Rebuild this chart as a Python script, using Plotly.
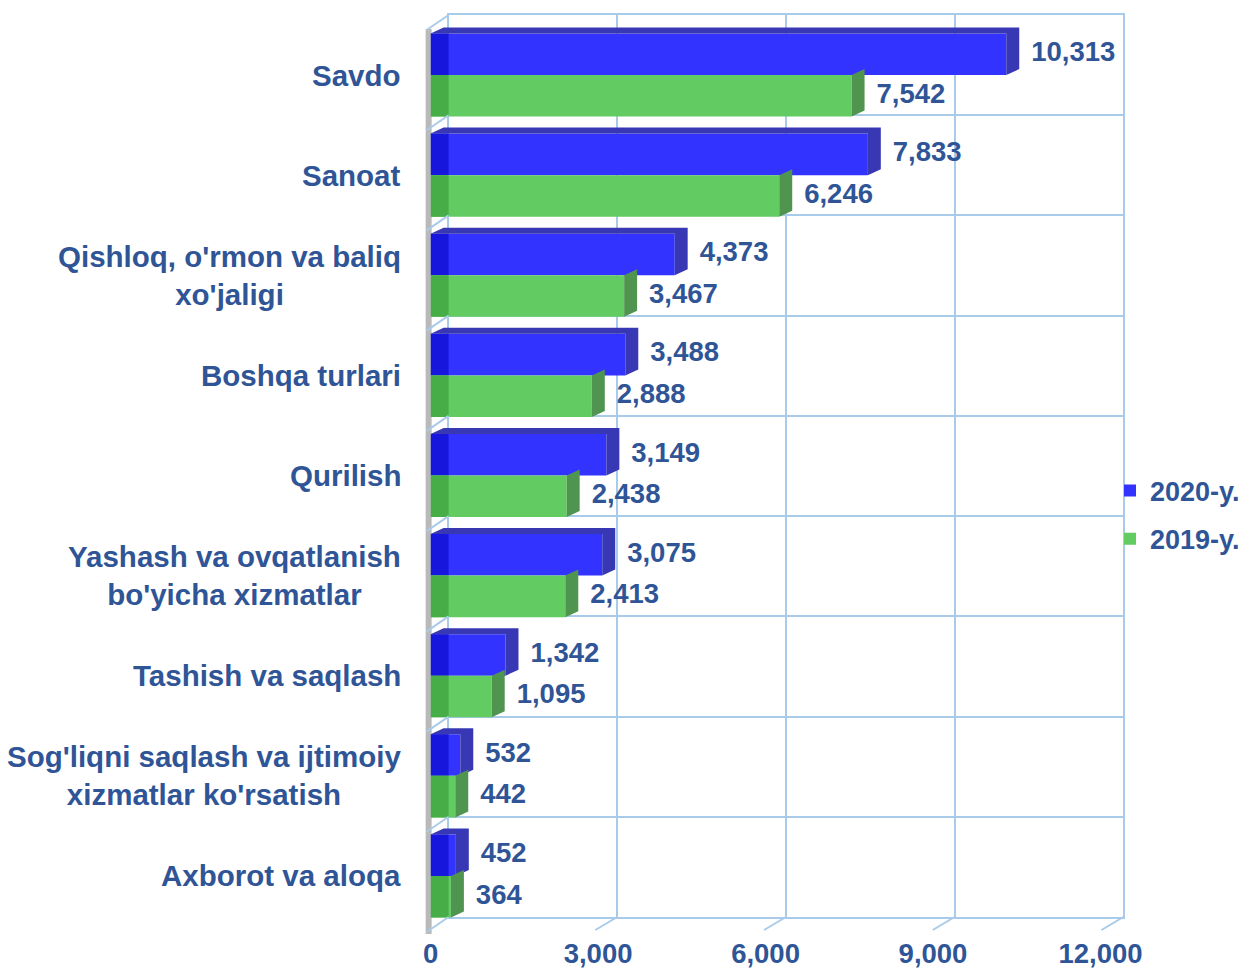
import plotly.graph_objects as go

categories = ["Savdo", "Sanoat", "Qishloq, o'rmon va baliq<br>xo'jaligi", "Boshqa turlari",
              "Qurilish", "Yashash va ovqatlanish<br>bo'yicha xizmatlar", "Tashish va saqlash",
              "Sog'liqni saqlash va ijtimoiy<br>xizmatlar ko'rsatish", "Axborot va aloqa"]
values_2020 = [10313, 7833, 4373, 3488, 3149, 3075, 1342, 532, 452]
values_2019 = [7542, 6246, 3467, 2888, 2438, 2413, 1095, 442, 364]
series_names = ["2020-y.", "2019-y."]
x_ticks = [0, 3000, 6000, 9000, 12000]

# the page body has an 8px margin; keep the figure inside the window
XOFF, YOFF = 8, 8
W, H = 1253 - 2 * XOFF, 977 - 2 * YOFF
TXT = "#2F5597"
GRID = "#A9CBEA"
FONT = "Liberation Sans, Arial, sans-serif"

# front plane (bars) and back plane (grid), in window pixels
fx0, fx1 = 432, 1104
fy_top, fy_bot = 25, 926
bx0, bx1 = 450, 1127
by_top, by_bot = 15, 917
XMAX = x_ticks[-1]
n = len(categories)
pos = list(range(n))

UNIT = XMAX / (fx1 - fx0)             # x units per pixel on the front plane
DX = 13 * UNIT                        # side-face depth (x units)
DY = 6 * n / (fy_bot - fy_top)        # top-face depth (category units)
BW = 0.415                            # bar thickness (category units)
LABEL_GAP = 12 * UNIT
WALL = 18 * UNIT                      # part of each bar in front of the side wall


def px(x):
    return (x - XOFF) / W


def py(y):
    return 1 - (y - YOFF) / H


def faces(values, top_edge_offset, with_top):
    xs, ys = [], []
    for p, v in zip(pos, values):
        yt = p + top_edge_offset
        yb = yt + BW
        xs += [v, v + DX, v + DX, v, v, None]
        ys += [yt, yt - DY, yb - DY, yb, yt, None]
        if with_top:
            xs += [0, DX, v + DX, v, 0, None]
            ys += [yt, yt - DY, yt - DY, yt, yt, None]
    return xs, ys


fig = go.Figure()

# back-wall grid subplot (drawn first)
fig.add_trace(go.Scatter(x=[0], y=[0], xaxis="x", yaxis="y", mode="markers",
                         marker=dict(opacity=0), showlegend=False, hoverinfo="skip"))

series = [
    (values_2020, series_names[0], "#3333FF", "#3838B4", "#1616DC", -BW, True),
    (values_2019, series_names[1], "#62CB62", "#50954F", "#47AD47", 0.0, False),
]

for vals, name, col, sidecol, darkcol, off, with_top in series:
    fig.add_trace(go.Bar(y=pos, x=vals, name=name, orientation="h", width=BW, offset=off,
                         xaxis="x2", yaxis="y2", marker=dict(color=col, line=dict(width=0)),
                         legendgroup=name, hoverinfo="x+name"))
    fig.add_trace(go.Bar(y=pos, x=[min(v, WALL) for v in vals], orientation="h", width=BW, offset=off,
                         xaxis="x2", yaxis="y2", marker=dict(color=darkcol, line=dict(width=0)),
                         showlegend=False, hoverinfo="skip", legendgroup=name))
    sx, sy = faces(vals, off, with_top)
    fig.add_trace(go.Scatter(x=sx, y=sy, xaxis="x2", yaxis="y2", mode="lines", fill="toself",
                             fillcolor=sidecol, line=dict(width=0, color=sidecol),
                             showlegend=False, hoverinfo="skip", legendgroup=name))

for vals, name, col, sidecol, darkcol, off, with_top in series:
    fig.add_trace(go.Scatter(x=[v + DX + LABEL_GAP for v in vals], y=[p + off + BW / 2 for p in pos],
                             xaxis="x2", yaxis="y2", mode="text",
                             text=[f"{v:,}" for v in vals], textposition="middle right",
                             textfont=dict(size=27.5, color=TXT, family=FONT, weight="bold"),
                             showlegend=False, hoverinfo="skip", cliponaxis=False))

# category labels, centred multi-line like the original
for p, c in zip(pos, categories):
    fig.add_annotation(x=px(404), xref="paper", y=p, yref="y2", text=c, showarrow=False,
                       xanchor="right", align="center",
                       font=dict(size=29.5, color=TXT, family=FONT, weight="bold"))

shapes = []
# left wall strip
shapes.append(dict(type="rect", xref="paper", yref="paper", x0=px(427), x1=px(433),
                   y0=py(fy_bot + 8), y1=py(by_top + 14), fillcolor="#A8A8A8", line=dict(width=0),
                   layer="below", opacity=0.8))
# diagonal connectors on left wall for each category boundary
for i in range(n + 1):
    yb = by_top + (by_bot - by_top) * i / n
    shapes.append(dict(type="line", xref="paper", yref="paper", x0=px(bx0), y0=py(yb),
                       x1=px(fx0 - 4), y1=py(yb + 15), line=dict(color=GRID, width=2)))
# diagonal ticks at bottom
for t in x_ticks[1:]:
    xb = bx0 + (bx1 - bx0) * t / XMAX
    shapes.append(dict(type="line", xref="paper", yref="paper", x0=px(xb), y0=py(by_bot),
                       x1=px(xb - 22), y1=py(by_bot + 13), line=dict(color=GRID, width=2)))

fig.update_layout(
    width=W, height=H,
    margin=dict(l=0, r=0, t=0, b=0),
    paper_bgcolor="white", plot_bgcolor="rgba(0,0,0,0)",
    font=dict(family=FONT, color=TXT, weight="bold"),
    barmode="overlay",
    xaxis=dict(domain=[px(bx0), px(bx1)], range=[0, XMAX], tickvals=x_ticks, showticklabels=False,
               showgrid=True, gridcolor=GRID, gridwidth=2, zeroline=False, automargin=False,
               showline=True, linecolor=GRID, linewidth=2, mirror=True, anchor="y", fixedrange=True),
    yaxis=dict(domain=[py(by_bot), py(by_top)], range=[0, n], dtick=1, tick0=0, showticklabels=False,
               showgrid=True, gridcolor=GRID, gridwidth=2, zeroline=False, automargin=False,
               showline=True, linecolor=GRID, linewidth=2, mirror=True, anchor="x", fixedrange=True),
    xaxis2=dict(domain=[px(fx0), px(fx1)], range=[0, XMAX], tickvals=x_ticks, tickformat=",",
                showgrid=False, zeroline=False, showline=False, anchor="y2", automargin=False,
                ticks="outside", ticklen=0, ticklabelstandoff=3,
                tickfont=dict(size=27.5, color=TXT, family=FONT, weight="bold")),
    yaxis2=dict(domain=[py(fy_bot), py(fy_top)], range=[n - 0.5, -0.5], showticklabels=False,
                showgrid=False, zeroline=False, showline=False, anchor="x2", automargin=False),
    legend=dict(x=px(1114), y=py(515), xanchor="left", yanchor="middle",
                font=dict(size=27, color=TXT, family=FONT, weight="bold"),
                traceorder="grouped", tracegroupgap=10, bgcolor="rgba(0,0,0,0)",
                itemwidth=30),
    shapes=shapes,
    showlegend=True,
)

fig.write_html("out.html")
